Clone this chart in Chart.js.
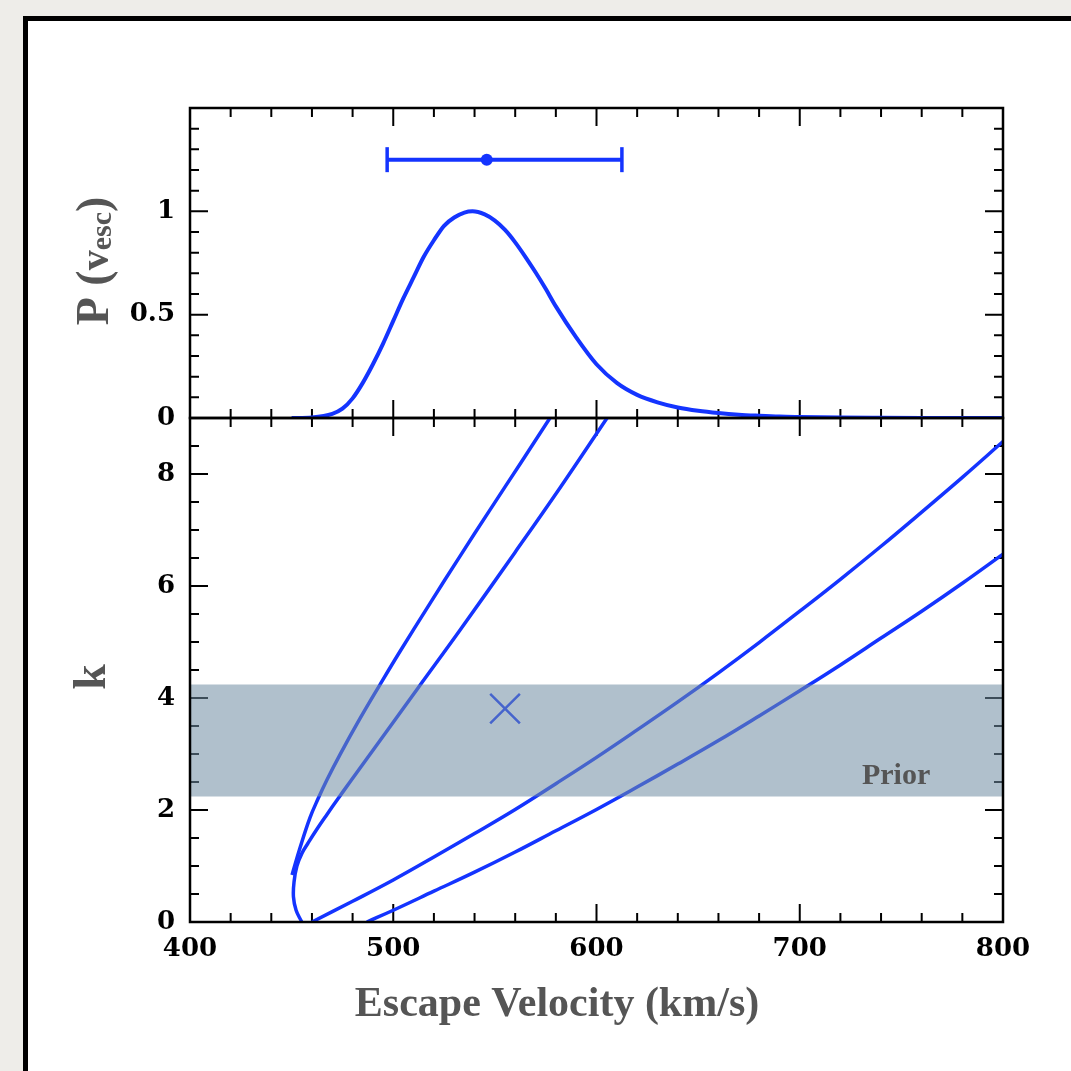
<!DOCTYPE html>
<html>
<head>
<meta charset="utf-8">
<script src="https://cdn.jsdelivr.net/npm/chart.js@4.4.1/dist/chart.umd.min.js"></script>
<style>
  body { margin: 0; background: #eeede9; width: 1071px; height: 1071px; overflow: hidden; position: relative; }
  #frame { position: absolute; left: 23px; top: 16px; width: 1100px; height: 1100px; background: #fff; border: 5px solid #000; }
  canvas { position: absolute; left: 0; }
  #top { top: 0; }
  #bottom { top: 400px; }
</style>
</head>
<body>
<div id="frame"></div>
<canvas id="top" width="1071" height="440"></canvas>
<canvas id="bottom" width="1071" height="671"></canvas>
<script>
// top panel: normalised probability of the escape velocity
const vGrid = [450, 460, 470, 475, 480, 485, 490, 495, 500, 505, 510, 515, 520, 525, 530, 535, 539, 545, 550, 555, 560, 565, 570, 575, 580, 590, 600, 610, 620, 630, 640, 650, 660, 670, 680, 690, 700, 720, 740, 760, 800];
const pVesc = [0, 0.003, 0.02, 0.045, 0.095, 0.17, 0.26, 0.36, 0.47, 0.58, 0.68, 0.78, 0.86, 0.93, 0.97, 0.994, 1.0, 0.985, 0.955, 0.91, 0.85, 0.78, 0.705, 0.625, 0.54, 0.39, 0.26, 0.17, 0.112, 0.076, 0.051, 0.035, 0.024, 0.016, 0.011, 0.007, 0.005, 0.002, 0.001, 0.0005, 0];

// error bar above the peak
const vescLow = 497;
const vescBest = 546;
const vescHigh = 612.5;
const errLevel = 1.25;

// bottom panel: k against escape velocity, four contours
const curveAv = [450.2, 454.1, 459.0, 463.0, 467.4, 473.8, 483.6, 493.5, 503.3, 518.1, 532.8, 547.6, 562.4, 577.1];
const curveAk = [0.84, 1.32, 1.86, 2.2, 2.54, 2.99, 3.63, 4.24, 4.83, 5.69, 6.53, 7.36, 8.18, 9.0];
const curveBv = [455.0, 452.2, 450.9, 451.2, 452.6, 455.1, 458.1, 462.5, 467.4, 472.8, 478.7, 493.5, 512.2, 532.8, 559.9, 582.0, 605.2];
const curveBk = [0, 0.21, 0.45, 0.72, 1.0, 1.23, 1.41, 1.66, 1.92, 2.2, 2.5, 3.24, 4.18, 5.21, 6.6, 7.75, 9.0];
const curveCv = [460, 480, 500, 520, 540, 560, 580, 600, 620, 640, 660, 680, 700, 720, 740, 760, 780, 800];
const curveCk = [0, 0.37, 0.75, 1.16, 1.58, 2.01, 2.47, 2.94, 3.43, 3.93, 4.45, 4.99, 5.55, 6.12, 6.71, 7.32, 7.94, 8.58];
const curveDv = [487, 500, 520, 540, 560, 580, 600, 620, 640, 660, 680, 700, 720, 740, 760, 780, 800];
const curveDk = [0, 0.21, 0.55, 0.89, 1.25, 1.63, 2.01, 2.41, 2.82, 3.24, 3.68, 4.13, 4.59, 5.07, 5.55, 6.05, 6.57];

const priorLow = 2.24;
const priorHigh = 4.24;
const bestV = 555;
const bestK = 3.81;
const priorLabelV = 747.4;
const priorLabelK = 2.47;

// ticks
const xLabels = [400, 500, 600, 700, 800];
const xMinor = [420, 440, 460, 480, 520, 540, 560, 580, 620, 640, 660, 680, 720, 740, 760, 780];
const pLabels = [0, 0.5, 1];
const pMinor = [0.1, 0.2, 0.3, 0.4, 0.6, 0.7, 0.8, 0.9, 1.1, 1.2, 1.3, 1.4];
const kLabels = [0, 2, 4, 6, 8];
const kMinor = [0.5, 1, 1.5, 2.5, 3, 3.5, 4.5, 5, 5.5, 6.5, 7, 7.5, 8.5];

const blue = 'rgb(20, 52, 255)';
const grey = '#555';
const tickFont = { family: 'DejaVu Serif', weight: 'bold', size: 26 };

function pts(xs, ys) {
  return xs.map((x, i) => ({ x: x, y: ys[i] }));
}

// inward ticks on all four sides, then the box on top
const frameTicks = {
  id: 'frameTicks',
  beforeDatasetsDraw(chart, args, opts) {
    const { ctx, chartArea: a, scales: { x, y } } = chart;
    ctx.save();
    ctx.strokeStyle = '#000';
    ctx.lineWidth = 2;
    ctx.beginPath();
    const xt = (vals, len) => vals.forEach(v => {
      const px = x.getPixelForValue(v);
      ctx.moveTo(px, a.top); ctx.lineTo(px, a.top + len);
      ctx.moveTo(px, a.bottom); ctx.lineTo(px, a.bottom - len);
    });
    const yt = (vals, len) => vals.forEach(v => {
      const py = y.getPixelForValue(v);
      ctx.moveTo(a.left, py); ctx.lineTo(a.left + len, py);
      ctx.moveTo(a.right, py); ctx.lineTo(a.right - len, py);
    });
    xt(opts.xMajor, 18);
    xt(opts.xMinor, 9);
    yt(opts.yMajor, 18);
    yt(opts.yMinor, 9);
    ctx.stroke();
    ctx.restore();
  },
  afterDatasetsDraw(chart) {
    const { ctx, chartArea: a } = chart;
    ctx.save();
    ctx.strokeStyle = '#000';
    ctx.lineWidth = 2.5;
    ctx.strokeRect(a.left, a.top, a.right - a.left, a.bottom - a.top);
    ctx.restore();
  }
};

const pTitle = {
  id: 'pTitle',
  afterDraw(chart) {
    const { ctx, chartArea: a } = chart;
    const parts = [
      { t: 'P', f: 'bold 46px "Liberation Serif"', dy: 0 },
      { t: ' (', f: 'bold 46px "Liberation Serif"', dy: 0 },
      { t: 'v', f: 'bold 40px "Liberation Serif"', dy: 0 },
      { t: 'esc', f: 'bold 30px "Liberation Serif"', dy: 3 },
      { t: ')', f: 'bold 46px "Liberation Serif"', dy: 0 }
    ];
    ctx.save();
    ctx.fillStyle = grey;
    ctx.textBaseline = 'alphabetic';
    let total = 0;
    parts.forEach(p => { ctx.font = p.f; p.w = ctx.measureText(p.t).width; total += p.w; });
    ctx.translate(a.left - 82, (a.top + a.bottom) / 2 - 2);
    ctx.rotate(-Math.PI / 2);
    let cx = -total / 2;
    parts.forEach(p => { ctx.font = p.f; ctx.fillText(p.t, cx, p.dy); cx += p.w; });
    ctx.restore();
  }
};

const kTitles = {
  id: 'kTitles',
  afterDraw(chart) {
    const { ctx, chartArea: a, scales: { x, y } } = chart;
    ctx.save();
    ctx.fillStyle = grey;
    ctx.textAlign = 'center';
    ctx.textBaseline = 'alphabetic';
    ctx.font = 'bold 46px "Liberation Serif"';
    ctx.save();
    ctx.translate(a.left - 85, (a.top + a.bottom) / 2 + 7);
    ctx.rotate(-Math.PI / 2);
    ctx.fillText('k', 0, 0);
    ctx.restore();
    ctx.font = 'bold 42px "Liberation Serif"';
    ctx.fillText('Escape Velocity (km/s)', a.left + 367, a.bottom + 94);
    ctx.font = 'bold 30px "Liberation Serif"';
    ctx.fillText('Prior', x.getPixelForValue(priorLabelV), y.getPixelForValue(priorLabelK));
    ctx.restore();
  }
};

const common = {
  responsive: false,
  animation: false,
  events: [],
  plugins: { legend: { display: false }, tooltip: { enabled: false } },
  elements: { point: { radius: 0 } }
};

function yAxis(max, labels) {
  return {
    type: 'linear', min: 0, max: max,
    grid: { display: false, drawTicks: false },
    border: { display: false },
    afterBuildTicks: s => { s.ticks = labels.map(v => ({ value: v })); },
    afterFit: s => { s.width = 190; s.paddingTop = 0; s.paddingBottom = 0; },
    ticks: { color: '#000', font: tickFont, padding: 15, autoSkip: false, callback: v => String(v) }
  };
}

new Chart(document.getElementById('top'), {
  type: 'scatter',
  data: {
    datasets: [
      {
        data: pts(vGrid, pVesc),
        showLine: true,
        borderColor: blue,
        borderWidth: 4,
        cubicInterpolationMode: 'monotone',
        pointRadius: 0
      },
      {
        data: [{ x: vescLow, y: errLevel }, { x: vescBest, y: errLevel }, { x: vescHigh, y: errLevel }],
        showLine: true,
        borderColor: blue,
        backgroundColor: blue,
        borderWidth: 4,
        pointStyle: ['line', 'circle', 'line'],
        pointRadius: [12.5, 6, 12.5],
        pointRotation: [90, 0, 90],
        pointBorderWidth: [3.5, 0, 3.5],
        pointBorderColor: blue,
        pointBackgroundColor: blue
      }
    ]
  },
  options: {
    ...common,
    layout: { autoPadding: false, padding: { left: 0, right: 68, top: 108, bottom: 22 } },
    plugins: {
      ...common.plugins,
      frameTicks: { xMajor: xLabels, xMinor: xMinor, yMajor: pLabels, yMinor: pMinor }
    },
    scales: {
      x: { type: 'linear', min: 400, max: 800, display: false },
      y: yAxis(1.5, pLabels)
    }
  },
  plugins: [frameTicks, pTitle]
});

new Chart(document.getElementById('bottom'), {
  type: 'scatter',
  data: {
    datasets: [
      {
        data: [{ x: 400, y: priorHigh }, { x: 800, y: priorHigh }],
        showLine: true,
        borderColor: 'transparent',
        borderWidth: 1,
        pointRadius: 0,
        fill: '+1',
        backgroundColor: 'rgba(111, 140, 162, 0.55)'
      },
      {
        data: [{ x: 400, y: priorLow }, { x: 800, y: priorLow }],
        showLine: true,
        borderColor: 'transparent',
        borderWidth: 1,
        pointRadius: 0,
        fill: false
      },
      {
        data: [{ x: bestV, y: bestK }],
        pointStyle: 'crossRot',
        pointRadius: 21,
        pointBorderWidth: 2.5,
        pointBorderColor: blue,
        borderColor: blue
      },
      { data: pts(curveAv, curveAk), showLine: true, borderColor: blue, borderWidth: 3.5, tension: 0.4, pointRadius: 0 },
      { data: pts(curveBv, curveBk), showLine: true, borderColor: blue, borderWidth: 3.5, tension: 0.4, pointRadius: 0 },
      { data: pts(curveCv, curveCk), showLine: true, borderColor: blue, borderWidth: 3.5, tension: 0.4, pointRadius: 0 },
      { data: pts(curveDv, curveDk), showLine: true, borderColor: blue, borderWidth: 3.5, tension: 0.4, pointRadius: 0 }
    ]
  },
  options: {
    ...common,
    layout: { autoPadding: false, padding: { left: 0, right: 68, top: 18, bottom: 89 } },
    plugins: {
      ...common.plugins,
      frameTicks: { xMajor: xLabels, xMinor: xMinor, yMajor: kLabels, yMinor: kMinor }
    },
    scales: {
      x: {
        type: 'linear', min: 400, max: 800,
        grid: { display: false, drawTicks: false },
        border: { display: false },
        afterBuildTicks: s => { s.ticks = xLabels.map(v => ({ value: v })); },
        afterFit: s => { s.height = 60; s.paddingLeft = 0; s.paddingRight = 0; },
        ticks: { color: '#000', font: tickFont, padding: 12, autoSkip: false, maxRotation: 0 }
      },
      y: yAxis(9, kLabels)
    }
  },
  plugins: [frameTicks, kTitles]
});
</script>
</body>
</html>
